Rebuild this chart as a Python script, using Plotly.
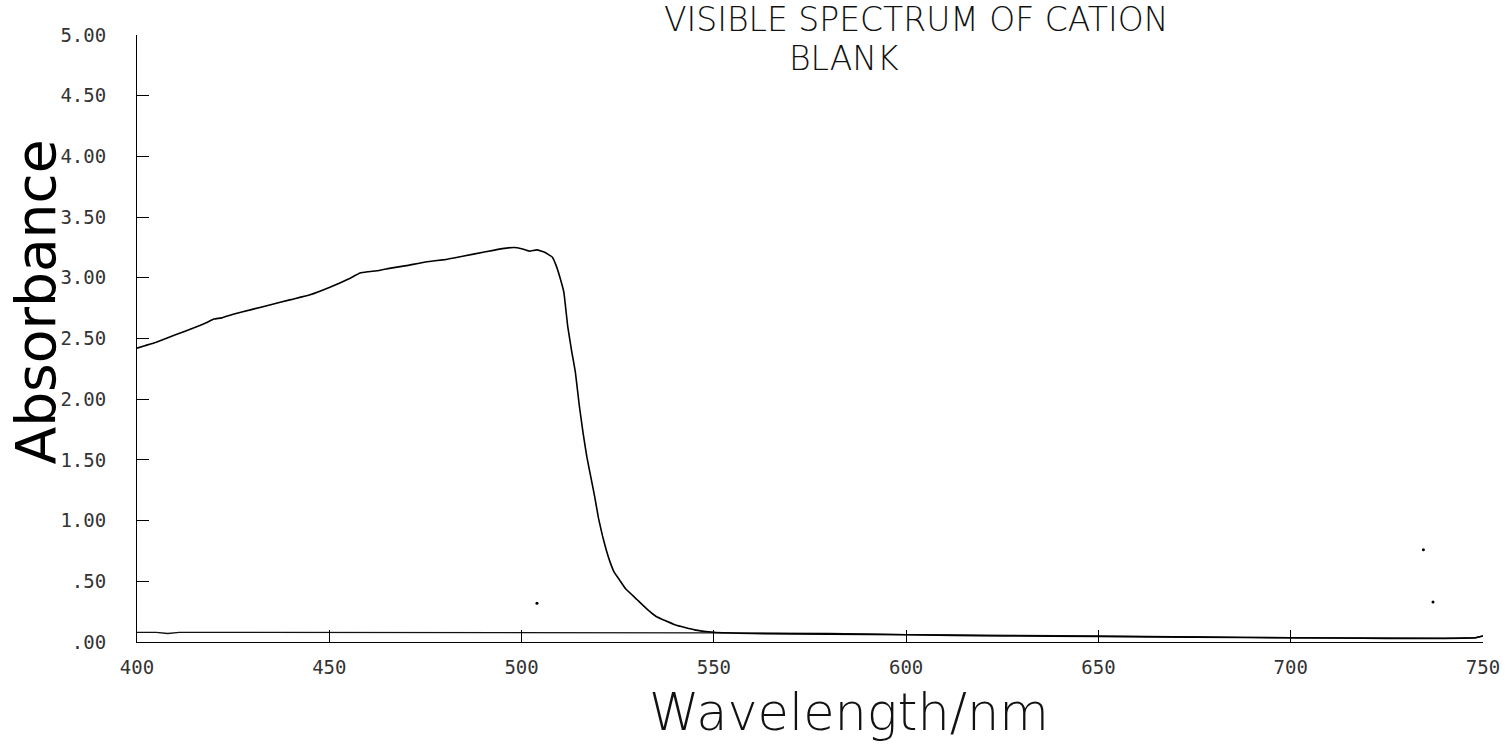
import plotly.graph_objects as go

# ---- data ----
sample_wl = [400, 402, 405, 410, 415, 418, 420, 422, 425, 430, 435, 440, 445, 450,
             455, 458, 460, 463, 466, 470, 475, 480, 485, 490, 495, 498, 500, 502,
             504, 506, 508, 509, 510, 511, 512, 513, 514, 515, 516, 517, 518, 519,
             520, 521, 522, 523, 524, 525.5, 527, 530, 533, 535, 540, 545, 550,
             560, 580, 600, 625, 650, 675, 700, 725, 740, 748, 750]
sample_abs = [2.42, 2.44, 2.47, 2.53, 2.59, 2.63, 2.66, 2.67, 2.70, 2.74, 2.78, 2.82, 2.86, 2.92,
              2.99, 3.04, 3.05, 3.06, 3.08, 3.10, 3.13, 3.15, 3.18, 3.21, 3.24, 3.25, 3.24, 3.22,
              3.23, 3.21, 3.17, 3.10, 3.00, 2.88, 2.60, 2.40, 2.22, 1.95, 1.72, 1.52, 1.36, 1.20,
              1.02, 0.88, 0.76, 0.66, 0.58, 0.51, 0.44, 0.35, 0.26, 0.21, 0.14, 0.10, 0.08,
              0.07, 0.065, 0.06, 0.05, 0.045, 0.04, 0.035, 0.03, 0.03, 0.035, 0.05]

blank_wl = [400, 405, 408, 411, 420, 450, 500, 550, 580, 600, 650, 700, 740, 748, 750]
blank_abs = [0.08, 0.08, 0.07, 0.08, 0.08, 0.08, 0.08, 0.075, 0.07, 0.06, 0.05, 0.035, 0.03, 0.035, 0.05]

speck_wl = [504, 734.5, 737]
speck_abs = [0.32, 0.76, 0.33]

x_ticks = [400, 450, 500, 550, 600, 650, 700, 750]
x_ticktext = ["400", "450", "500", "550", "600", "650", "700", "750"]
y_ticks = [0, 0.5, 1.0, 1.5, 2.0, 2.5, 3.0, 3.5, 4.0, 4.5, 5.0]
y_ticktext = [".00", ".50", "1.00", "1.50", "2.00", "2.50", "3.00", "3.50", "4.00", "4.50", "5.00"]

title_line1 = "VISIBLE SPECTRUM OF CATION"
title_line2 = "BLANK"
x_title = "Wavelength/nm"
y_title = "Absorbance"

fig = go.Figure()
fig.add_trace(go.Scatter(x=blank_wl, y=blank_abs, mode="lines",
                         line=dict(color="#111", width=1.3), name="Blank"))
fig.add_trace(go.Scatter(x=sample_wl, y=sample_abs, mode="lines",
                         line=dict(color="#000", width=1.6, shape="spline", smoothing=0.3),
                         name="Cation"))
fig.add_trace(go.Scatter(x=speck_wl, y=speck_abs, mode="markers",
                         marker=dict(color="#000", size=3), name="specks"))

tick_font = dict(family="DejaVu Sans Mono", size=19, color="#333")

fig.update_layout(
    width=1512, height=744,
    margin=dict(l=137, r=23, t=35, b=102),
    paper_bgcolor="white", plot_bgcolor="white",
    showlegend=False,
    xaxis=dict(range=[400, 750], tickvals=x_ticks, ticktext=x_ticktext,
               ticks="inside", ticklen=12, tickcolor="#000", tickwidth=1,
               showline=True, linecolor="#000", linewidth=1,
               showgrid=False, zeroline=False, tickfont=tick_font,
               ticklabelstandoff=8),
    yaxis=dict(range=[0, 5], tickvals=y_ticks, ticktext=y_ticktext,
               ticks="inside", ticklen=12, tickcolor="#000", tickwidth=1,
               showline=True, linecolor="#000", linewidth=1,
               showgrid=False, zeroline=False, tickfont=tick_font,
               ticklabelstandoff=26),
    annotations=[
        dict(text=title_line1, xref="paper", yref="paper", x=(919 - 137) / 1352,
             y=(744 - 19 - 102) / 607, xanchor="center", yanchor="middle",
             showarrow=False, font=dict(family="DejaVu Sans", size=33, color="#111", weight=200)),
        dict(text=title_line2, xref="paper", yref="paper", x=(847 - 137) / 1352,
             y=(744 - 58 - 102) / 607, xanchor="center", yanchor="middle",
             showarrow=False, font=dict(family="DejaVu Sans", size=33, color="#111", weight=200)),
        dict(text=x_title, xref="paper", yref="paper", x=(852 - 137) / 1352,
             y=(744 - 712 - 102) / 607, xanchor="center", yanchor="middle",
             showarrow=False, font=dict(family="DejaVu Sans", size=51, color="#111", weight=200)),
        dict(text=y_title, xref="paper", yref="paper", x=(36 - 137) / 1352,
             y=(744 - 302 - 102) / 607, xanchor="center", yanchor="middle", textangle=-90,
             showarrow=False, font=dict(family="DejaVu Sans", size=55, color="#000")),
    ],
)

fig.write_html("out.html")
